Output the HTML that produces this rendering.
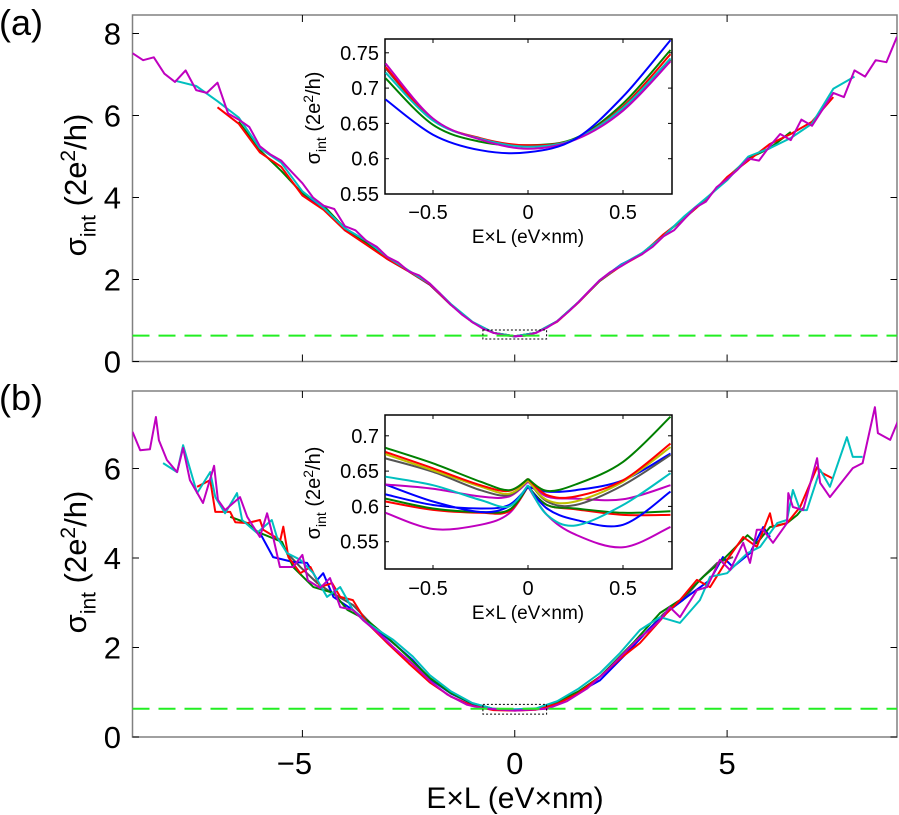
<!DOCTYPE html>
<html><head><meta charset="utf-8"><style>
html,body{margin:0;padding:0;background:#fff;}
svg{display:block;font-family:"Liberation Sans",Arial,sans-serif;}
</style></head><body>
<svg id="fig" width="899" height="815" viewBox="0 0 899 815" xmlns="http://www.w3.org/2000/svg">
<defs>
<clipPath id="clipA"><rect x="132.5" y="15" width="764.5" height="346.5"/></clipPath>
<clipPath id="clipB"><rect x="132.5" y="391" width="764.5" height="346"/></clipPath>
<clipPath id="clipIA"><rect x="385" y="39" width="287" height="155"/></clipPath>
<clipPath id="clipIB"><rect x="385" y="415" width="287" height="154"/></clipPath>
</defs>
<g id="layer"></g>
</svg>
<script>
// ---------- DATA ----------
const quantumLine = 0.63;
// Panel (a) main series
const topMagX = [-9,-8.75,-8.5,-8.25,-8,-7.75,-7.5,-7.25,-7,-6.75,-6.5,-6.25,-6,-5.75,-5.5,-5.25,-5,-4.75,-4.5,-4.25,-4,-3.75,-3.5,-3.25,-3,-2.75,-2.5,-2.25,-2,-1.75,-1.5,-1.25,-1,-0.75,-0.5,-0.25,0,0.25,0.5,0.75,1,1.25,1.5,1.75,2,2.25,2.5,2.75,3,3.25,3.5,3.75,4,4.25,4.5,4.75,5,5.25,5.5,5.75,6,6.25,6.5,6.75,7,7.25,7.5,7.75,8,8.25,8.5,8.75,9];
const topMagY = [7.52,7.35,7.42,7.02,6.82,7.10,6.62,6.55,6.80,6.05,5.90,5.72,5.25,5.05,4.90,4.62,4.35,4.00,3.80,3.72,3.30,3.20,2.95,2.80,2.55,2.42,2.20,2.10,1.90,1.65,1.38,1.15,0.96,0.80,0.70,0.64,0.615,0.63,0.70,0.82,0.98,1.20,1.45,1.72,1.98,2.18,2.32,2.48,2.62,2.80,3.05,3.20,3.48,3.75,3.90,4.25,4.45,4.68,4.95,4.90,5.25,5.55,5.40,5.90,5.75,6.15,6.55,6.45,7.10,6.95,7.35,7.30,7.92];
const topX = [-8,-7.5,-7,-6.5,-6,-5.5,-5,-4.5,-4,-3.5,-3,-2.5,-2,-1.5,-1,-0.5,0,0.5,1,1.5,2,2.5,3,3.5,4,4.5,5,5.5,6,6.5,7,7.5,8];
const topCyan  = [6.85,6.72,6.35,5.95,5.20,4.85,4.15,3.75,3.25,2.95,2.55,2.22,1.90,1.40,0.97,0.70,0.617,0.70,0.98,1.45,1.98,2.35,2.65,3.05,3.55,3.98,4.42,5.00,5.20,5.45,5.80,6.65,6.95];
const topRed   = [null,null,6.20,5.80,5.10,4.75,4.05,3.70,3.20,2.85,2.50,2.20,1.88,1.38,0.96,0.70,0.618,0.70,0.97,1.44,1.97,2.33,2.62,3.10,3.50,3.95,4.50,4.90,5.30,5.55,5.85,6.45,null];
const topGreen = [null,null,null,5.85,5.15,4.65,4.10,3.80,3.25,2.90,2.52,2.20,1.88,1.38,0.96,0.70,0.618,0.70,0.98,1.45,1.96,2.34,2.64,3.08,3.50,3.95,4.48,4.95,5.20,5.60,null,null,null];
const topBlue  = [null,null,null,null,null,null,4.10,3.75,3.20,2.90,2.50,2.20,1.87,1.38,0.96,0.70,0.61,0.70,0.98,1.45,1.98,2.36,2.63,3.08,3.52,3.95,4.48,null,null,null,null,null,null];

// Panel (b) main series
const botMagX = [-9,-8.82,-8.59,-8.45,-8.38,-8.19,-7.95,-7.81,-7.65,-7.34,-7.08,-6.99,-6.82,-6.47,-6.30,-6.0,-5.83,-5.69,-5.53,-5.22,-5.0,-4.87,-4.58,-4.35,-4.11,-3.81,-3.57,-3.24,-2.86,-2.39,-1.99,-1.59,-1.12,-0.75,0,0.76,1.23,1.70,2.17,2.64,2.95,3.18,3.42,3.65,3.89,4.29,4.53,4.83,5.07,5.38,5.54,5.70,5.85,6.08,6.41,6.44,6.55,6.79,7.12,7.19,7.42,7.96,8.19,8.48,8.55,8.84,9.03];
const botMagY = [6.82,6.41,6.43,7.15,6.63,6.19,5.92,6.46,5.74,5.23,6.06,5.30,5.07,5.36,4.92,4.47,5.00,4.47,3.80,3.80,4.07,3.50,3.33,3.55,2.90,2.84,2.61,2.35,2.01,1.62,1.25,0.95,0.72,0.64,0.59,0.63,0.80,1.08,1.48,1.94,2.23,2.39,2.61,2.90,2.68,3.28,3.35,3.96,3.73,4.34,3.89,4.63,4.63,4.34,4.78,5.45,5.14,5.07,6.23,5.68,5.36,6.01,6.12,7.37,6.79,6.64,7.08];
const botCyanX = [-8.28,-7.95,-7.81,-7.48,-7.17,-7.05,-6.82,-6.54,-6.42,-6.07,-5.72,-5.6,-5.36,-5.05,-4.74,-4.42,-4.11,-3.81,-3.48,-2.86,-2.4,-2.0,-1.5,-1.0,-0.5,0,0.5,1.0,1.5,2.01,2.48,2.95,3.42,3.89,4.36,4.6,5.0,5.24,5.48,5.78,6.18,6.41,6.55,6.72,6.88,7.19,7.42,7.82,7.96,8.19];
const botCyanY = [6.12,5.92,6.52,5.45,5.92,5.36,5.00,5.45,4.85,4.56,4.85,4.47,4.11,3.96,3.66,3.13,3.35,2.84,2.55,2.17,1.80,1.38,1.02,0.76,0.63,0.62,0.64,0.80,1.08,1.43,1.88,2.39,2.68,2.55,3.06,3.58,3.66,3.89,4.11,4.25,4.78,4.85,5.52,5.07,5.07,5.97,5.59,6.70,6.26,6.26];
const botRedX = [-7.48,-7.17,-7.05,-6.7,-6.58,-6.3,-6.0,-5.92,-5.52,-5.45,-5.33,-5.05,-4.81,-4.58,-4.3,-4.11,-3.81,-3.48,-3.0,-2.5,-2.0,-1.5,-1.0,-0.5,0,0.5,1.0,1.5,2.01,2.48,2.95,3.58,3.89,4.29,4.6,5.0,5.38,5.7,6.01,6.08,6.41,6.72,7.12,7.24,7.5];
const botRedY = [5.59,5.74,5.03,5.03,4.80,4.78,4.85,4.63,4.40,4.70,4.02,3.66,3.80,3.35,3.44,3.13,3.06,2.55,2.10,1.65,1.22,0.90,0.70,0.60,0.59,0.61,0.74,0.98,1.35,1.75,2.10,2.77,3.06,3.51,3.35,3.96,4.47,4.25,5.00,4.69,4.78,5.14,6.03,5.90,5.77];
const botGreenX = [-6.7,-6.3,-6.05,-5.48,-5.22,-4.74,-4.27,-3.94,-3.48,-3.0,-2.5,-2.0,-1.5,-1.0,-0.5,0,0.5,1.0,1.5,2.01,2.79,3.42,3.89,4.44,4.9,5.48,5.7,6.01,6.41,6.65,6.79];
const botGreenY = [4.92,4.78,4.58,4.36,3.80,3.35,3.22,2.84,2.61,2.23,1.78,1.32,0.98,0.75,0.63,0.61,0.63,0.78,1.02,1.35,2.10,2.77,3.06,3.58,3.96,4.51,4.33,4.69,4.78,4.96,5.12];
const botBlueX = [-6.0,-5.69,-5.22,-4.89,-4.65,-4.51,-4.27,-3.81,-3.34,-2.86,-2.4,-2.0,-1.5,-1.0,-0.5,0,0.5,1.0,1.5,2.01,2.64,3.18,3.65,4.05,4.6,4.9,5.14,5.54,5.85,6.01];
const botBlueY = [4.56,4.02,3.91,3.89,3.51,3.66,3.13,2.84,2.46,2.10,1.72,1.30,0.97,0.74,0.62,0.60,0.62,0.76,1.00,1.27,1.88,2.43,2.84,3.13,3.51,4.02,3.80,4.11,4.69,4.47];
const botGrayX = [-5.36,-5.05,-4.65,-4.27,-3.81,-3.3,-2.8,3.0,3.5,3.96,4.36,4.77,5.14];
const botGrayY = [4.11,3.80,3.44,3.20,2.95,2.45,2.05,2.25,2.75,3.06,3.51,3.89,4.02];

// Inset (a)
const insAX = [-0.75,-0.5,-0.25,0,0.25,0.5,0.75];
const insABlue    = [0.684,0.634,0.612,0.609,0.628,0.688,0.768];
const insAGreen   = [0.714,0.648,0.624,0.619,0.629,0.678,0.754];
const insAGray    = [0.728,0.655,0.628,0.618,0.628,0.670,0.740];
const insARed     = [0.730,0.655,0.629,0.619,0.628,0.674,0.748];
const insACyan    = [0.722,0.654,0.628,0.617,0.628,0.672,0.742];
const insAMagenta = [0.735,0.657,0.627,0.614,0.627,0.668,0.738];

// Inset (b): left half and right half of each curve
const insBXL = [-0.75,-0.5,-0.25,-0.1,0];
const insBXR = [0,0.1,0.25,0.5,0.75];
const insBGreenAL = [0.683,0.661,0.635,0.623,0.639], insBGreenAR = [0.639,0.622,0.631,0.663,0.727];
const insBRedAL   = [0.677,0.654,0.630,0.622,0.639], insBRedAR   = [0.639,0.616,0.614,0.637,0.689];
const insBYellowL = [0.674,0.651,0.628,0.618,0.637], insBYellowR = [0.637,0.609,0.607,0.635,0.684];
const insBGrayL   = [0.668,0.649,0.623,0.616,0.637], insBGrayR   = [0.637,0.607,0.602,0.630,0.673];
const insBCyanL   = [0.642,0.630,0.609,0.600,0.630], insBCyanR   = [0.630,0.588,0.573,0.602,0.647];
const insBBlueAL  = [0.617,0.602,0.597,0.602,0.628], insBBlueAR  = [0.628,0.621,0.623,0.637,0.675];
const insBBlueBL  = [0.631,0.607,0.592,0.600,0.628], insBBlueBR  = [0.628,0.597,0.581,0.574,0.621];
const insBMagAL   = [0.631,0.625,0.614,0.614,0.635], insBMagAR   = [0.635,0.614,0.611,0.610,0.630];
const insBGreenBL = [0.611,0.597,0.592,0.595,0.628], insBGreenBR = [0.628,0.602,0.597,0.591,0.593];
const insBRedBL   = [0.607,0.595,0.591,0.593,0.628], insBRedBR   = [0.628,0.602,0.596,0.588,0.588];
const insBMagBL   = [0.591,0.568,0.574,0.590,0.628], insBMagBR   = [0.628,0.588,0.560,0.542,0.571];

const mainXTicks = [-5,0,5];
const mainXTickLabels = ["\u22125","0","5"];
const topYTicks = [0,2,4,6,8];
const botYTicks = [0,2,4,6];
const insXTicks = [-0.5,0,0.5];
const insXTickLabels = ["\u22120.5","0","0.5"];
const insAYTicks = [0.55,0.6,0.65,0.7,0.75];
const insAYTickLabels = ["0.55","0.6","0.65","0.7","0.75"];
const insBYTicks = [0.55,0.6,0.65,0.7];
const insBYTickLabels = ["0.55","0.6","0.65","0.7"];

// ---------- SCALES ----------
const mx = x => 514.75 + x*42.47;
const tyA = v => 361.5 - v*41.0;
const tyB = v => 737 - v*44.75;
const ix = x => 528 + x*190;
const iyA = v => 194 - (v-0.55)*706;
const iyB = v => 541.7 - (v-0.55)*706;

const NS = "http://www.w3.org/2000/svg";
const layer = document.getElementById('layer');
function mk(tag, attrs, parent){
  const e = document.createElementNS(NS, tag);
  for (const k in attrs) e.setAttribute(k, attrs[k]);
  (parent||layer).appendChild(e);
  return e;
}
const C = {blue:"#0000ff",green:"#008000",red:"#ff0000",cyan:"#00bfbf",magenta:"#bf00bf",yellow:"#bfbf00",gray:"#555555"};

function polyPath(xs, ys, sx, sy){
  let d = "", pen = false;
  for (let i=0;i<xs.length;i++){
    if (ys[i]===null){ pen=false; continue; }
    d += (pen?"L":"M") + sx(xs[i]).toFixed(1) + "," + sy(ys[i]).toFixed(1);
    pen = true;
  }
  return d;
}
function smoothPath(xs, ys, sx, sy){
  const P = xs.map((x,i)=>[sx(x), sy(ys[i])]);
  let d = "M"+P[0][0].toFixed(1)+","+P[0][1].toFixed(1);
  for (let i=0;i<P.length-1;i++){
    const p0 = P[Math.max(0,i-1)], p1 = P[i], p2 = P[i+1], p3 = P[Math.min(P.length-1,i+2)];
    const c1 = [p1[0]+(p2[0]-p0[0])/6, p1[1]+(p2[1]-p0[1])/6];
    const c2 = [p2[0]-(p3[0]-p1[0])/6, p2[1]-(p3[1]-p1[1])/6];
    d += "C"+c1[0].toFixed(1)+","+c1[1].toFixed(1)+" "+c2[0].toFixed(1)+","+c2[1].toFixed(1)+" "+p2[0].toFixed(1)+","+p2[1].toFixed(1);
  }
  return d;
}

function axisBox(x0,y0,x1,y1,stroke,name){
  const r = mk('rect',{x:x0,y:y0,width:x1-x0,height:y1-y0,fill:"#fff",stroke:stroke,"stroke-width":1.5});
  
  
  return r;
}
function txt(x,y,s,size,anchor,name){
  const t = mk('text',{x:x,y:y,"font-size":size,"text-anchor":anchor||"middle",fill:"#000"});
  t.textContent = s;
  
  
  return t;
}
function sigmaLabel(cx,cy,big,small,name){
  const t = mk('text',{transform:"translate("+cx+","+cy+") rotate(-90)","font-size":big,"text-anchor":"middle",fill:"#000"});
  
  
  const a = mk('tspan',{},t); a.textContent = "\u03c3";
  const b = mk('tspan',{dy:big*0.3,"font-size":small},t); b.textContent = "int";
  const c = mk('tspan',{dy:-big*0.3},t); c.textContent = " (2e";
  const d = mk('tspan',{dy:-big*0.35,"font-size":small},t); d.textContent = "2";
  const e = mk('tspan',{dy:big*0.35},t); e.textContent = "/h)";
}

function mainPanel(y0,y1,ys,yTicks,clip,panel){
  axisBox(132.5,y0,897,y1,"#808080","plot-area-"+panel);
  yTicks.forEach(v=>{
    const y = ys(v);
    mk('line',{x1:132.5,x2:139,y1:y,y2:y,stroke:"#000","stroke-width":1});
    mk('line',{x1:890.5,x2:897,y1:y,y2:y,stroke:"#000","stroke-width":1});
    txt(121,y+11,String(v),31,"end","y-tick-label-"+panel+"-"+v);
  });
  mainXTicks.forEach(v=>{
    const x = mx(v);
    mk('line',{x1:x,x2:x,y1:y1,y2:y1-7,stroke:"#000","stroke-width":1});
    mk('line',{x1:x,x2:x,y1:y0,y2:y0+7,stroke:"#000","stroke-width":1});
  });
  const g = mk('g',{"clip-path":"url(#"+clip+")"});
  
  
  return g;
}
function drawLine(g, xs, ys, sx, sy, color, name, smooth){
  const p = mk('path',{d: smooth? smoothPath(xs,ys,sx,sy) : polyPath(xs,ys,sx,sy), fill:"none", stroke:color, "stroke-width":2, "stroke-linejoin":"round"}, g);
  
  
}
function hline(g, v, sy, name){
  const l = mk('line',{x1:132.5,x2:897,y1:sy(v),y2:sy(v),stroke:"#22ee22","stroke-width":2,"stroke-dasharray":"17,9"}, g);
  
  
}
function zoomBox(g, sy, v0, v1, name){
  const r = mk('rect',{x:mx(-0.75),y:sy(v1),width:mx(0.75)-mx(-0.75),height:sy(v0)-sy(v1),fill:"none",stroke:"#000","stroke-width":1,"stroke-dasharray":"2,2"}, g);
  
  
}

// ---------- PANEL A ----------
const gA = mainPanel(15,361.5,tyA,topYTicks,"clipA","a");
drawLine(gA, topX, topBlue, mx, tyA, C.blue, "series-a-blue");
drawLine(gA, topX, topGreen, mx, tyA, C.green, "series-a-green");
drawLine(gA, topX, topRed, mx, tyA, C.red, "series-a-red");
drawLine(gA, topX, topCyan, mx, tyA, C.cyan, "series-a-cyan");
drawLine(gA, topMagX, topMagY, mx, tyA, C.magenta, "series-a-magenta");
hline(gA, quantumLine, tyA, "quantum-line-a");
zoomBox(gA, tyA, 0.55, 0.769, "zoom-box-a");

// ---------- PANEL B ----------
const gB = mainPanel(391,737,tyB,botYTicks,"clipB","b");
drawLine(gB, botGrayX.slice(0,7), botGrayY.slice(0,7), mx, tyB, C.gray, "series-b-gray-left");
drawLine(gB, botGrayX.slice(7), botGrayY.slice(7), mx, tyB, C.gray, "series-b-gray-right");
drawLine(gB, botBlueX, botBlueY, mx, tyB, C.blue, "series-b-blue");
drawLine(gB, botGreenX, botGreenY, mx, tyB, C.green, "series-b-green");
drawLine(gB, botRedX, botRedY, mx, tyB, C.red, "series-b-red");
drawLine(gB, botCyanX, botCyanY, mx, tyB, C.cyan, "series-b-cyan");
drawLine(gB, botMagX, botMagY, mx, tyB, C.magenta, "series-b-magenta");
hline(gB, quantumLine, tyB, "quantum-line-b");
zoomBox(gB, tyB, 0.511, 0.729, "zoom-box-b");

// main labels
txt(-1,35,"(a)",36,"start","panel-label-a");
txt(-1,410,"(b)",36,"start","panel-label-b");
sigmaLabel(86,185,31,21,"y-axis-title-a");
sigmaLabel(86,562,31,21,"y-axis-title-b");
mainXTicks.forEach((v,i)=>txt(mx(v)+ (v<0?-8:0),774,mainXTickLabels[i],31,"middle","x-tick-label-"+i));
txt(515,808,"E\u00d7L (eV\u00d7nm)",30,"middle","x-axis-title");

// ---------- INSETS ----------
function inset(y0,y1,iy,yTicks,yLabels,clip,panel,labY,lblCy){
  axisBox(385,y0,672,y1,"#000","inset-plot-area-"+panel);
  yTicks.forEach((v,i)=>{
    const y = iy(v);
    mk('line',{x1:385,x2:389,y1:y,y2:y,stroke:"#000","stroke-width":1});
    mk('line',{x1:668,x2:672,y1:y,y2:y,stroke:"#000","stroke-width":1});
    txt(379,y+7,yLabels[i],20,"end","inset-y-tick-label-"+panel+"-"+i);
  });
  insXTicks.forEach((v,i)=>{
    const x = ix(v);
    mk('line',{x1:x,x2:x,y1:y1,y2:y1-4,stroke:"#000","stroke-width":1});
    mk('line',{x1:x,x2:x,y1:y0,y2:y0+4,stroke:"#000","stroke-width":1});
    txt(x+(v<0?-5:0),labY,insXTickLabels[i],20,"middle","inset-x-tick-label-"+panel+"-"+i);
  });
  txt(528,labY+24,"E\u00d7L (eV\u00d7nm)",19,"middle","inset-x-axis-title-"+panel);
  sigmaLabel(320,lblCy,20,14,"inset-y-axis-title-"+panel);
  const g = mk('g',{"clip-path":"url(#"+clip+")"});
  
  
  return g;
}
const iA = inset(39,194,iyA,insAYTicks,insAYTickLabels,"clipIA","a",219,118);
drawLine(iA, insAX, insAGray, ix, iyA, C.gray, "inset-a-gray", true);
drawLine(iA, insAX, insAGreen, ix, iyA, C.green, "inset-a-green", true);
drawLine(iA, insAX, insARed, ix, iyA, C.red, "inset-a-red", true);
drawLine(iA, insAX, insACyan, ix, iyA, C.cyan, "inset-a-cyan", true);
drawLine(iA, insAX, insAMagenta, ix, iyA, C.magenta, "inset-a-magenta", true);
drawLine(iA, insAX, insABlue, ix, iyA, C.blue, "inset-a-blue", true);

const iB = inset(415,569,iyB,insBYTicks,insBYTickLabels,"clipIB","b",595,493);
const bPairs = [
  [insBMagBL,insBMagBR,C.magenta,"inset-b-magenta-low"],
  [insBRedBL,insBRedBR,C.red,"inset-b-red-low"],
  [insBGreenBL,insBGreenBR,C.green,"inset-b-green-low"],
  [insBBlueBL,insBBlueBR,C.blue,"inset-b-blue-low"],
  [insBBlueAL,insBBlueAR,C.blue,"inset-b-blue-high"],
  [insBMagAL,insBMagAR,C.magenta,"inset-b-magenta-high"],
  [insBCyanL,insBCyanR,C.cyan,"inset-b-cyan"],
  [insBGrayL,insBGrayR,C.gray,"inset-b-gray"],
  [insBYellowL,insBYellowR,C.yellow,"inset-b-yellow"],
  [insBRedAL,insBRedAR,C.red,"inset-b-red-high"],
  [insBGreenAL,insBGreenAR,C.green,"inset-b-green-high"]
];
bPairs.forEach(p=>{
  drawLine(iB, insBXL, p[0], ix, iyB, p[2], p[3]+"-left", true);
  drawLine(iB, insBXR, p[1], ix, iyB, p[2], p[3]+"-right", true);
});
</script>
</body></html>
